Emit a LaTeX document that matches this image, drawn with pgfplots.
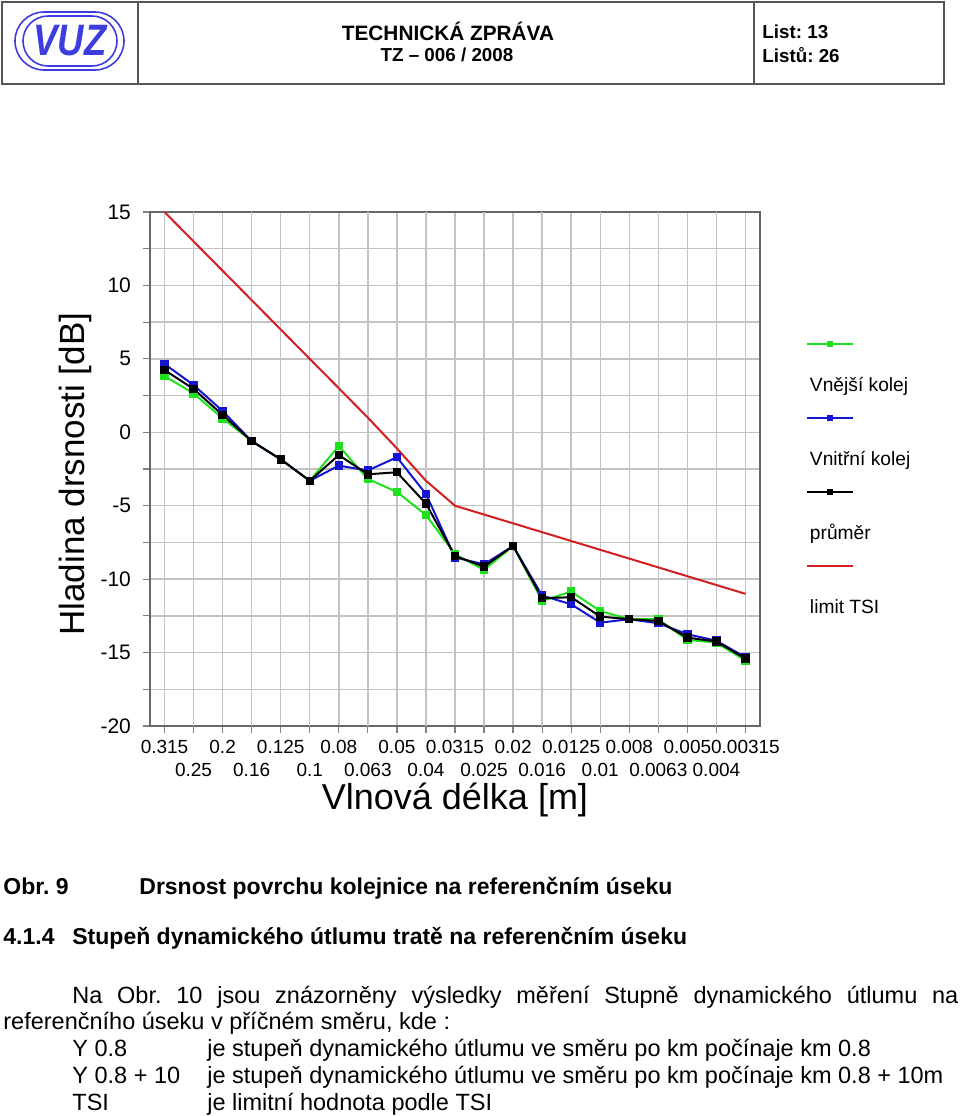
\documentclass[border=0pt]{standalone}
\usepackage{fontspec}
\setmainfont{Liberation Sans}
\usepackage{graphicx}
\usepackage{pgfplots}
\pgfplotsset{compat=1.18}
\definecolor{cgreen}{RGB}{30,225,30}
\definecolor{cblue}{RGB}{20,20,210}
\definecolor{cred}{RGB}{210,30,30}
\definecolor{cgrid}{RGB}{195,195,195}
\definecolor{logoblue}{RGB}{60,60,225}
\definecolor{frame}{RGB}{85,85,85}
\begin{document}
\frenchspacing
\begin{tikzpicture}
\path[use as bounding box] (0,0) rectangle (480pt,-558pt);
% header
\draw[line width=1pt, frame] (1pt,-1pt) rectangle (472pt,-42pt);
\draw[line width=1pt, frame] (69pt,-1pt) -- (69pt,-42pt) (377pt,-1pt) -- (377pt,-42pt);
\draw[logoblue, line width=0.8pt, rounded corners=14.5pt] (7.5pt,-6pt) rectangle (62pt,-35pt);
\draw[logoblue, line width=0.8pt, rounded corners=12.5pt] (11.5pt,-8pt) rectangle (58.5pt,-33pt);
\node[logoblue, inner sep=0pt, font=\fontsize{22pt}{24pt}\selectfont\bfseries\itshape] at (35pt,-20.5pt) {\scalebox{0.83}[1]{VUZ}};
\node[font=\fontsize{10.4pt}{12pt}\selectfont\bfseries] at (224pt,-15.5pt) {TECHNICKÁ ZPRÁVA};
\node[font=\fontsize{9.4pt}{11pt}\selectfont\bfseries] at (223.5pt,-27.5pt) {TZ – 006 / 2008};
\node[anchor=west, inner sep=0pt, font=\fontsize{9.4pt}{11pt}\selectfont\bfseries] at (381pt,-16pt) {List: 13};
\node[anchor=west, inner sep=0pt, font=\fontsize{9.4pt}{11pt}\selectfont\bfseries] at (381pt,-27.5pt) {Listů: 26};
% chart
\begin{axis}[
 at={(75pt,-363pt)}, anchor=south west,
 scale only axis, width=305pt, height=257pt,
 xmin=-0.5, xmax=20.5, ymin=-20, ymax=15,
 xtick pos=bottom, ytick pos=left,
 xtick={0,2,...,20},
 xticklabels={0.315,0.2,0.125,0.08,0.05,0.0315,0.02,0.0125,0.008,0.005,0.00315},
 extra x ticks={1,3,...,19},
 extra x tick labels={0.25,0.16,0.1,0.063,0.04,0.025,0.016,0.01,0.0063,0.004},
 extra x tick style={grid=major, tick label style={yshift=-11.5pt}},
 ytick={-20,-15,...,15},
 yticklabels={-20,-15,-10,-5,0,5,10,15},
 minor ytick={-17.5,-12.5,...,12.5},
 grid=both,
 major grid style={cgrid, line width=0.7pt},
 minor grid style={cgrid, line width=0.7pt},
 tick align=outside,
 major tick length=3.5pt, minor tick length=3.5pt,
 tick style={gray, line width=0.6pt},
 axis line style={gray!80!black, line width=0.7pt},
 x tick label style={font=\fontsize{9.5pt}{11pt}\selectfont},
 y tick label style={font=\fontsize{10.5pt}{12pt}\selectfont, xshift=-2.5pt},
 xlabel={Vlnová délka [m]}, ylabel={Hladina drsnosti [dB]},
 xlabel style={font=\fontsize{18pt}{21pt}\selectfont, at={(axis description cs:0.5,-0.144)}, anchor=center},
 ylabel style={font=\fontsize{17.5pt}{21pt}\selectfont, at={(axis description cs:-0.123,0.49)}, anchor=center},
 legend style={at={(axis description cs:1.0754,0.679)}, anchor=north west, draw=none, fill=none, inner sep=0pt, outer sep=0pt, row sep=28pt, column sep=0pt, font=\fontsize{9.6pt}{11pt}\selectfont, nodes={inner sep=0pt, text height=7pt, text depth=2pt}, cells={anchor=west}},
 legend image code/.code={\path (0pt,0pt) (1pt,0pt);\draw[overlay,#1,line width=0.6pt,mark size=1pt,mark repeat=2,mark phase=2] plot coordinates {(0pt,21pt) (11.5pt,21pt) (23pt,21pt)};},
]
\addplot[cgreen, line width=1pt, mark=square*, mark size=1.6pt] coordinates {
(0,3.83) (1,2.65) (2,0.95) (3,-0.6) (4,-1.84) (5,-3.3) (6,-0.93) (7,-3.18) (8,-4.06) (9,-5.63) (10,-8.3)
(11,-9.37) (12,-7.74) (13,-11.48) (14,-10.85) (15,-12.17) (16,-12.73) (17,-12.73) (18,-14.14) (19,-14.32) (20,-15.55)};
\addlegendentry{Vnější kolej}
\addplot[cblue, line width=1pt, mark=square*, mark size=1.6pt] coordinates {
(0,4.65) (1,3.22) (2,1.45) (3,-0.6) (4,-1.84) (5,-3.3) (6,-2.27) (7,-2.6) (8,-1.7) (9,-4.2) (10,-8.52)
(11,-8.99) (12,-7.74) (13,-11.12) (14,-11.71) (15,-12.96) (16,-12.73) (17,-13.0) (18,-13.75) (19,-14.19) (20,-15.32)};
\addlegendentry{Vnitřní kolej}
\addplot[black, line width=1pt, mark=square*, mark size=1.6pt] coordinates {
(0,4.24) (1,2.95) (2,1.18) (3,-0.6) (4,-1.84) (5,-3.3) (6,-1.55) (7,-2.86) (8,-2.72) (9,-4.86) (10,-8.42)
(11,-9.15) (12,-7.74) (13,-11.3) (14,-11.23) (15,-12.55) (16,-12.73) (17,-12.85) (18,-13.98) (19,-14.25) (20,-15.41)};
\addlegendentry{průměr}
\addplot[cred, line width=1pt, no marks] coordinates {
(0,15) (1,13) (2,11) (3,9) (4,7) (5,5) (6,3) (7,1) (8,-1.1) (9,-3.3) (10,-5)
(11,-5.6) (12,-6.2) (13,-6.8) (14,-7.4) (15,-8) (16,-8.6) (17,-9.2) (18,-9.8) (19,-10.4) (20,-11)};
\addlegendentry{limit TSI}
\end{axis}
% text below
\begin{scope}[every node/.style={anchor=base west, inner sep=0pt}]
\node[font=\fontsize{11.5pt}{13.5pt}\selectfont\bfseries] at (1.5pt,-447pt) {Obr. 9};
\node[font=\fontsize{11.5pt}{13.5pt}\selectfont\bfseries] at (69.5pt,-447pt) {Drsnost povrchu kolejnice na referenčním úseku};
\node[font=\fontsize{11.5pt}{13.5pt}\selectfont\bfseries] at (1.5pt,-472pt) {4.1.4};
\node[font=\fontsize{11.5pt}{13.5pt}\selectfont\bfseries] at (36pt,-472pt) {Stupeň dynamického útlumu tratě na referenčním úseku};
\node[font=\fontsize{11.75pt}{13.5pt}\selectfont] at (36pt,-501.5pt) {\makebox[443pt][s]{Na Obr. 10 jsou znázorněny výsledky měření Stupně dynamického útlumu na}};
\node[font=\fontsize{11.75pt}{13.5pt}\selectfont] at (1.5pt,-514.5pt) {referenčního úseku v příčném směru, kde :};
\node[font=\fontsize{11.75pt}{13.5pt}\selectfont] at (36pt,-528pt) {Y 0.8};
\node[font=\fontsize{11.75pt}{13.5pt}\selectfont] at (103.5pt,-528pt) {je stupeň dynamického útlumu ve směru po km počínaje km 0.8};
\node[font=\fontsize{11.75pt}{13.5pt}\selectfont] at (36pt,-541.5pt) {Y 0.8 + 10};
\node[font=\fontsize{11.75pt}{13.5pt}\selectfont] at (103.5pt,-541.5pt) {je stupeň dynamického útlumu ve směru po km počínaje km 0.8 + 10m};
\node[font=\fontsize{11.75pt}{13.5pt}\selectfont] at (36pt,-555pt) {TSI};
\node[font=\fontsize{11.75pt}{13.5pt}\selectfont] at (103.5pt,-555pt) {je limitní hodnota podle TSI};
\end{scope}
\end{tikzpicture}
\end{document}
